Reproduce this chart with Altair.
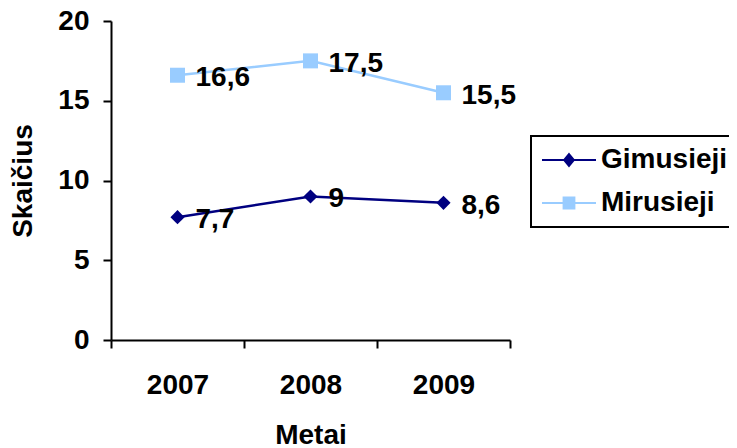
import altair as alt
import pandas as pd

years = [2007, 2008, 2009]
series_names = ["Gimusieji", "Mirusieji"]
gimusieji = [7.7, 9.0, 8.6]
mirusieji = [16.6, 17.5, 15.5]
colors = ["#000080", "#99CCFF"]
y_ticks = [0, 5, 10, 15, 20]

rows = []
for name, vals in zip(series_names, [gimusieji, mirusieji]):
    for yr, v in zip(years, vals):
        rows.append({"year": yr, "series": name, "value": v,
                     "label": f"{v:g}".replace(".", ",")})
df = pd.DataFrame(rows)

FONT = "Liberation Sans"
x_vals = [2006.5, 2007, 2007.5, 2008, 2008.5, 2009, 2009.5]

x = alt.X("year:Q", title="Metai",
          scale=alt.Scale(domain=[2006.5, 2009.5], nice=False, zero=False),
          axis=alt.Axis(values=x_vals,
                        labelExpr="datum.value % 1 == 0 ? format(datum.value, 'd') : ''",
                        labelOverlap=False, labelFlush=False,
                        tickOpacity={"condition": {"test": "datum.value % 1 == 0", "value": 0}, "value": 1},
                        labelPadding=23, titlePadding=22))
y = alt.Y("value:Q", title="Skaičius",
          scale=alt.Scale(domain=[0, 20], nice=False),
          axis=alt.Axis(values=y_ticks, labelPadding=14, titlePadding=20))

dom = series_names
legend = alt.Legend(title=None, orient="none", legendX=420, legendY=115,
                    strokeColor="black", fillColor="white", padding=10,
                    labelFont=FONT, labelFontSize=28, labelFontWeight="bold",
                    labelColor="black", symbolSize=324, symbolStrokeWidth=2,
                    symbolOpacity=1, rowPadding=15, labelOffset=18,
                    symbolOffset=14)

stroke_scale = alt.Scale(domain=dom, range=colors)
fill_scale = alt.Scale(domain=dom, range=colors)
shape_scale = alt.Scale(domain=dom, range=[
    "M-3,0L3,0M0,-0.66L0.54,0L0,0.66L-0.54,0Z",
    "M-3,0L3,0M-0.6,-0.6L0.6,-0.6L0.6,0.6L-0.6,0.6Z",
])

base = alt.Chart(df)

lines = base.mark_line(strokeWidth=2.5).encode(
    x=x, y=y,
    stroke=alt.Stroke("series:N", scale=stroke_scale),
    detail="series:N",
)

pts_g = base.transform_filter(alt.datum.series == "Gimusieji").mark_point(
    shape="diamond", filled=True, size=200, opacity=1).encode(
    x=x, y=y, fill=alt.Fill("series:N", scale=fill_scale))

pts_m = base.transform_filter(alt.datum.series == "Mirusieji").mark_point(
    shape="square", filled=True, size=225, opacity=1).encode(
    x=x, y=y, fill=alt.Fill("series:N", scale=fill_scale))

legend_layer = base.mark_point(filled=True, opacity=0).encode(
    x=x, y=y,
    fill=alt.Fill("series:N", scale=fill_scale, legend=legend),
    stroke=alt.Stroke("series:N", scale=stroke_scale, legend=legend),
    shape=alt.Shape("series:N", scale=shape_scale, legend=legend),
)

labels = base.mark_text(align="left", baseline="middle", dx=18, dy=3,
                        font=FONT, fontSize=28, fontWeight="bold",
                        color="black").encode(x=x, y=y, text="label:N")

chart = alt.layer(legend_layer, lines, pts_g, pts_m, labels).properties(
    width=399, height=319,
    autosize=alt.AutoSizeParams(type="none"),
    padding={"left": 103, "top": 13, "right": 219, "bottom": 108},
    background="white",
).configure_view(stroke=None).configure_axis(
    grid=False, domainColor="black", domainWidth=2, tickColor="black",
    tickWidth=2, tickSize=8, labelFont=FONT, labelFontSize=28,
    labelFontWeight="bold", labelColor="black", titleFont=FONT,
    titleFontSize=28, titleFontWeight="bold", titleColor="black",
).configure_legend(strokeWidth=2)

chart.save("out.html", embed_options={"renderer": "svg", "actions": False})
